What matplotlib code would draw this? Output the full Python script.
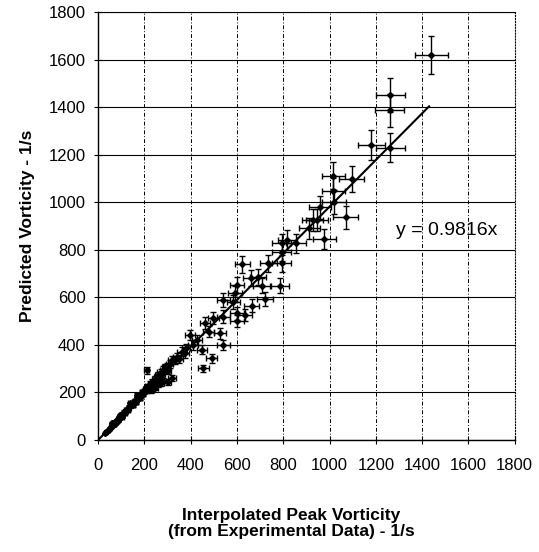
import matplotlib.pyplot as plt
import numpy as np

plt.rcParams['font.family'] = ['Liberation Sans', 'DejaVu Sans']

# data (experimental vs predicted peak vorticity, 1/s)
exp_x = [1440, 1263, 1260, 1181, 1263, 1016, 1095, 1016, 1019, 1069, 977,
         927, 912, 944, 958, 855, 818, 793, 793, 793, 623, 735, 692, 659,
         706, 786, 599, 591, 541, 584, 721, 664, 599, 635, 599, 541, 498,
         462, 477, 541, 527, 397, 426, 449, 361, 491, 455, 332, 296, 260,
         210, 217, 167, 138, 95, 59, 30,
         35, 40, 45, 50, 55, 60, 62, 68, 72, 75, 80, 85, 88, 92, 95, 100,
         105, 108, 112, 118, 120, 125, 130, 135, 140, 145, 150, 155, 160,
         165, 170, 175, 180, 185, 190, 195, 200, 205, 210, 215, 220, 225,
         230, 235, 240, 245, 250, 255, 265, 270, 275, 280, 290, 300, 310,
         320, 340, 350, 375, 380, 410, 260, 270, 280, 230, 245, 300, 320]
pred_y = [1619, 1451, 1388, 1241, 1229, 1112, 1098, 1049, 1000, 936, 845,
          925, 890, 925, 979, 827, 841, 827, 792, 743, 739, 743, 687, 683,
          649, 649, 652, 617, 589, 582, 593, 565, 533, 526, 502, 519, 512,
          491, 456, 400, 449, 442, 421, 379, 372, 343, 301, 336, 308, 273,
          294, 217, 189, 154, 105, 70, 28,
          35, 38, 42, 50, 55, 62, 58, 70, 75, 68, 82, 88, 80, 95, 100, 105,
          98, 112, 118, 115, 125, 130, 128, 140, 145, 150, 148, 160, 165,
          158, 180, 185, 178, 190, 200, 195, 205, 215, 210, 225, 218, 235,
          228, 245, 240, 255, 248, 265, 260, 285, 278, 295, 305, 290, 320,
          335, 350, 340, 365, 385, 400, 235, 240, 250, 210, 220, 245, 262]

pct_err = 0.05      # percentage error bars, both directions
slope = 0.9816      # trendline through origin
trend_x = [0, 1430]

exp_x = np.array(exp_x)
pred_y = np.array(pred_y)

fig = plt.figure(figsize=(5.39, 5.52), dpi=100)
ax = fig.add_axes([0.182, 0.203, 0.773, 0.775])

ax.errorbar(exp_x, pred_y, xerr=pct_err * exp_x, yerr=pct_err * pred_y,
            fmt='D', ms=3, color='black', ecolor='black',
            elinewidth=1.0, capsize=2.2, capthick=1.0, zorder=3)

tx = np.array(trend_x)
ax.plot(tx, slope * tx, color='black', lw=1.5, zorder=4)
ax.text(1288, 880, "y = 0.9816x", fontsize=14, ha='left', va='center')

ax.set_xlim(0, 1800)
ax.set_ylim(0, 1800)
ticks = np.arange(0, 1801, 200)
ax.set_xticks(ticks)
ax.set_yticks(ticks)
ax.tick_params(axis='both', labelsize=12, direction='inout', length=6,
               width=0.8)
ax.tick_params(axis='x', pad=10)
ax.tick_params(axis='y', pad=6)

ax.yaxis.grid(True, color='black', lw=0.8, ls='-')
ax.xaxis.grid(True, color='black', lw=0.7, ls=(0, (4, 2, 1, 2)))
ax.set_axisbelow(True)
for s in ['top', 'right']:
    ax.spines[s].set_linestyle(':')
    ax.spines[s].set_linewidth(0.8)
for s in ['left', 'bottom']:
    ax.spines[s].set_linewidth(1.0)

ax.set_ylabel("Predicted Vorticity - 1/s", fontsize=12.5, fontweight='bold',
              labelpad=10)
fig.text(0.54, 0.051, "Interpolated Peak Vorticity\n(from Experimental Data) - 1/s",
         ha='center', va='center', fontsize=12.5, fontweight='bold',
         linespacing=1.1)

plt.savefig("out.png", dpi=100)
